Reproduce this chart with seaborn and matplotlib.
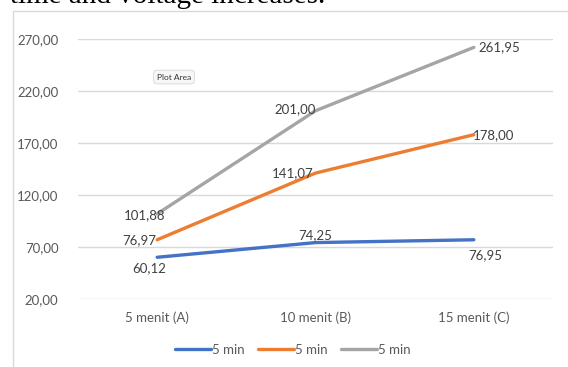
import matplotlib
matplotlib.use("Agg")
import matplotlib.pyplot as plt
import seaborn as sns
from matplotlib.patches import Rectangle

# Data
categories = ["5 menit (A)", "10 menit (B)", "15 menit (C)"]
series_names = ["5 min", "5 min", "5 min"]
blue_vals = [60.12, 74.25, 76.95]
orange_vals = [76.97, 141.07, 178.00]
gray_vals = [101.88, 201.00, 261.95]
y_ticks = [20, 70, 120, 170, 220, 270]

colors = ["#4472C4", "#ED7D31", "#A5A5A5"]

sns.set_theme(style="white")
plt.rcParams["font.family"] = ["Lato", "DejaVu Sans"]

fig = plt.figure(figsize=(5.68, 3.67), dpi=100)
ax = fig.add_axes([78 / 568, 1 - 299 / 367, 475 / 568, 260 / 367])

for vals, name, col in zip([blue_vals, orange_vals, gray_vals], series_names, colors):
    sns.lineplot(x=categories, y=vals, ax=ax, color=col, linewidth=2.4,
                 label=name, sort=False, solid_capstyle="round")

ax.set_xlim(-0.5, 2.5)
ax.set_ylim(20, 270)
ax.set_yticks(y_ticks)
ax.set_yticklabels([f"{v:.2f}".replace(".", ",") for v in y_ticks])
ax.yaxis.grid(True, color="#d9d9d9", linewidth=1)
ax.xaxis.grid(False)
for s in ax.spines.values():
    s.set_visible(False)
ax.tick_params(axis="both", length=0, labelsize=9.5, labelcolor="#595959")
ax.tick_params(axis="y", pad=14)
ax.tick_params(axis="x", pad=9)
ax.set_xlabel("")
ax.set_ylabel("")

# Data labels (offsets in points)
fmt = lambda v: f"{v:.2f}".replace(".", ",")
label_offsets = {
    0: [(-6, -8), (0, 5.5), (8, -11)],
    1: [(-13, 0), (-16.5, 0), (14, 0)],
    2: [(-9, -1), (-15, 1), (18, 0)],
}
for si, vals in enumerate([blue_vals, orange_vals, gray_vals]):
    for xi, v in enumerate(vals):
        dx, dy = label_offsets[si][xi]
        ax.annotate(fmt(v), (xi, v), xytext=(dx, dy), textcoords="offset points",
                    ha="center", va="center", fontsize=9.5, color="#404040")

# "Plot Area" hover tag
ax.text(174 / 568, 1 - 77 / 367, "Plot Area", transform=fig.transFigure,
        ha="center", va="center", fontsize=6, color="#333333",
        bbox=dict(boxstyle="round,pad=0.4", fc="#f7f7f7", ec="#d6d6d6", lw=0.6))

leg = ax.legend(loc="center", bbox_to_anchor=(293 / 568, 1 - 350 / 367),
                bbox_transform=fig.transFigure, ncol=3, frameon=False,
                fontsize=9.5, handlelength=2.7, handletextpad=0.1,
                columnspacing=1.0, labelcolor="#595959")

# Chart frame
fig.patches.append(Rectangle((13 / 568, -0.05), 1.2, 1 - 11 / 367 + 0.05,
                             transform=fig.transFigure, fill=False,
                             ec="#d9d9d9", lw=1))

# Caption text from the surrounding page
fig.text(10 / 568, 1 - 3 / 367, "time and voltage increases.",
         family=["Liberation Serif", "DejaVu Serif"], fontsize=21,
         color="black", ha="left", va="baseline")

fig.savefig("out.png", dpi=100)
